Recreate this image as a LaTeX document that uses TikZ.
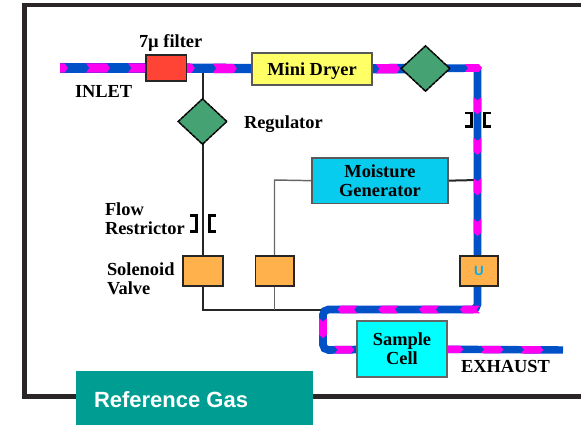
\documentclass[tikz,border=0pt]{standalone}
\usepackage{fontspec}
\setmainfont{Liberation Serif}
\newfontfamily\labelsans{Liberation Sans}
\usetikzlibrary{shapes.geometric,decorations.markings}
\pgfdeclarelayer{pipes}
\pgfsetlayers{pipes,main}
\definecolor{pipeblue}{HTML}{0050C8}
\definecolor{pipemag}{HTML}{FF00F0}
\definecolor{framegray}{HTML}{2A2627}
\definecolor{teal}{HTML}{009E92}
\definecolor{redbox}{HTML}{FF4436}
\definecolor{yellowbox}{HTML}{FFFF66}
\definecolor{greendia}{HTML}{45A373}
\definecolor{mgen}{HTML}{08CCEE}
\definecolor{cellc}{HTML}{00FFFF}
\definecolor{valve}{HTML}{FFB24C}
\tikzset{
 x=0.75pt,y=-0.75pt,
 every node/.style={inner sep=0pt,outer sep=0pt},
 lbl/.style={font=\bfseries\fontsize{13.8}{14}\selectfont,align=left,text=black},
 boxtxt/.style={font=\bfseries\fontsize{13.8}{14}\selectfont,align=center,text=black},
 comp/.style={draw=black!85,line width=1.1pt,rectangle,anchor=north west},
 dia/.style={diamond,draw=black,line width=1.1pt,fill=greendia,dashed,dash pattern=on 3pt off 0.4pt,minimum width=36.5pt,minimum height=34pt,aspect=1.05},
 thinline/.style={draw=black!85,line width=1.5pt},
 greyline/.style={draw=black!60,line width=1.1pt},
 pipe/.style n args={5}{draw=pipeblue,line width=#1,rounded corners=#5,postaction={decorate},
  decoration={markings,mark=between positions #2 and 1 step #3 with {
    \fill[pipemag,sharp corners] (-#4,-0.5*#1)--(#4-2.5pt,-0.5*#1)--(#4,0pt)--(#4-2.5pt,0.5*#1)--(-#4,0.5*#1)--(-#4+2.5pt,0pt)--cycle;}}},
 brk/.style={draw=black,line width=1.6pt},
}
\begin{document}
\begin{tikzpicture}
\useasboundingbox (0,0) rectangle (581,426);
% frame
\draw[framegray,line width=3.6pt] (581,5) -- (24.5,5) -- (24.5,396.5) -- (581,396.5);
% components
\node[comp,fill=redbox,minimum width=30.5pt,minimum height=19.5pt] (filter) at (146,55) {};
\node[comp,fill=yellowbox,draw=black!65,minimum width=90pt,minimum height=24pt,boxtxt,text depth=0pt] (dryer) at (252,53) {\raisebox{-0.5pt}{Mini Dryer}};
\node[dia] (reg) at (202.5,121.5) {};
\node[dia] (dia2) at (425.5,68.5) {};
\node[comp,fill=mgen,draw=black!65,minimum width=102pt,minimum height=34pt,boxtxt] (moist) at (312,158) {\raisebox{-1pt}{Moisture}\\\raisebox{-1pt}{Generator}};
\node[comp,fill=valve,minimum width=30pt,minimum height=22.5pt] (v1) at (183,256) {};
\node[comp,fill=valve,minimum width=29pt,minimum height=22.5pt] (v2) at (255.5,256) {};
\node[comp,fill=valve,minimum width=28.5pt,minimum height=22.5pt,font=\labelsans\bfseries\fontsize{10}{10}\selectfont,text=cyan] (v3) at (460,256) {U};
\node[comp,fill=cellc,draw=black!60,minimum width=67.5pt,minimum height=42pt,boxtxt] (cell) at (357,321) {Sample\\Cell};
% free ends
\coordinate (inlet) at (50,68);
\coordinate (exhaust) at (563,350);
\coordinate (tj) at (202.5,309.5);
\coordinate (mj) at (274.5,309.5);
\coordinate (pj) at (323,309.5);
\coordinate (cr) at (477.5,68);
\coordinate (gj) at (274.5,180);
\coordinate (rj) at (477.5,180);
\coordinate (b1) at (477.5,309.5);
\coordinate (b2) at (323,350);
\begin{pgfonlayer}{pipes}
% thin lines
\draw[thinline] (filter.center -| reg.north) -- (reg.north);
\draw[thinline] (reg.south) -- (v1.north -| reg.south);
\draw[thinline] (v1.south -| tj) -- (tj) -- (pj);
\draw[greyline] (moist.west) -- (gj) -- (v2.north -| gj);
\draw[greyline] (v2.south -| mj) -- (mj);
\draw[thinline] (moist.east) -- (rj);
% pipes
\begin{scope}
\clip (60,50) rectangle (150,90);
\draw[pipe={7pt}{4.5pt}{31.5pt}{9pt}{0pt}] (inlet) -- (filter.center);
\end{scope}
\draw[pipe={7pt}{12.4pt}{31.5pt}{9pt}{0pt}] (filter.center) -- (dryer.center);
\draw[pipe={7pt}{25.5pt}{31.5pt}{9pt}{0pt}] (dryer.center) -- (dia2.center);
\draw[pipe={5.8pt}{36pt}{30.4pt}{6.5pt}{2pt}] (dia2.center) -- (cr) -- (v3.center -| cr);
\draw[pipe={5.8pt}{2.3pt}{30.6pt}{7.5pt}{4pt}] (v3.center -| cr) -- (b1) -- (pj) -- (b2) -- (cell.center);
\draw[pipe={5.6pt}{37.5pt}{30pt}{8.5pt}{0pt}] (cell.center) -- (exhaust);
\end{pgfonlayer}
% restrictors
\draw[brk] (190,215.5) -- (196.5,215.5) -- (196.5,231.5) -- (190,231.5);
\draw[brk] (216,215.5) -- (209.5,215.5) -- (209.5,231.5) -- (216,231.5);
\draw[brk] (465,113) -- (471.5,113) -- (471.5,126.5) -- (465,126.5);
\draw[brk] (491,113) -- (484.5,113) -- (484.5,126.5) -- (491,126.5);
% labels
\node[lbl,anchor=west] (t1) at (139,42.5) {7µ filter};
\node[lbl,anchor=west] (t2) at (75,91) {INLET};
\node[lbl,anchor=west] (t3) at (244,124.5) {Regulator};
\node[lbl,anchor=west] (t4) at (105,218.5) {Flow\\Restrictor};
\node[lbl,anchor=west] (t5) at (107,279) {Solenoid\\Valve};
\node[lbl,anchor=west] (t6) at (461,366) {EXHAUST};
% tab
\node[fill=teal,anchor=north west,minimum width=177.75pt,minimum height=40.5pt] (tab) at (76,371) {};
\node[anchor=west,text=white,font=\labelsans\bfseries\fontsize{16.5}{18}\selectfont] (tabt) at (94,400) {Reference Gas};
\end{tikzpicture}
\end{document}
